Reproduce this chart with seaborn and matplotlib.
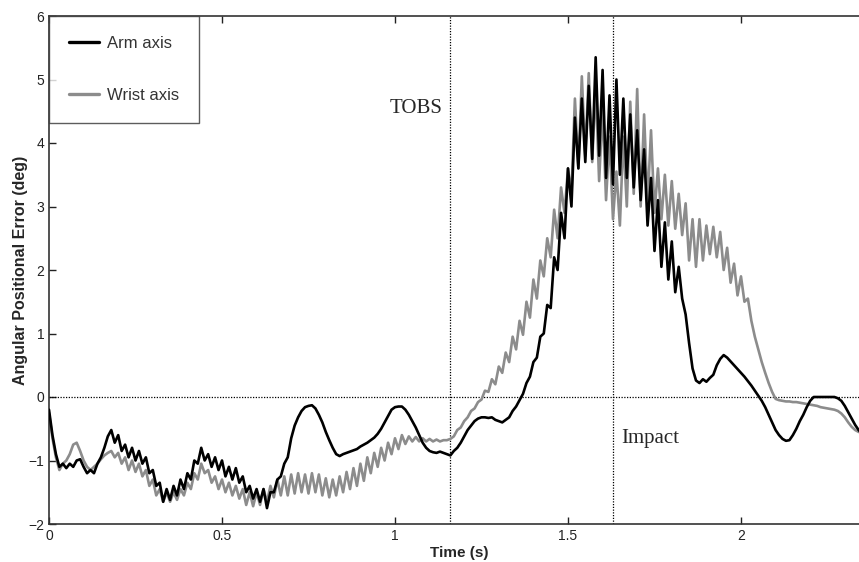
import numpy as np
import pandas as pd
import matplotlib
matplotlib.use("Agg")
import matplotlib.pyplot as plt
import seaborn as sns

sample_step = 0.01

arm_axis = [
    -0.20, -0.60, -0.90, -1.10, -1.05, -1.12, -1.05, -1.10, -1.00, -0.98,
    -1.10, -1.20, -1.15, -1.20, -1.05, -0.95, -0.80, -0.62, -0.52, -0.72,
    -0.60, -0.85, -0.75, -0.95, -0.80, -1.00, -0.85, -1.05, -0.95, -1.20,
    -1.15, -1.40, -1.35, -1.65, -1.45, -1.62, -1.40, -1.55, -1.30, -1.45,
    -1.20, -1.30, -1.00, -1.05, -0.80, -1.00, -0.90, -1.10, -0.95, -1.15,
    -1.00, -1.25, -1.10, -1.30, -1.12, -1.35, -1.25, -1.50, -1.40, -1.60,
    -1.45, -1.65, -1.45, -1.75, -1.50, -1.50, -1.30, -1.25, -1.05, -0.95,
    -0.65, -0.45, -0.32, -0.22, -0.16, -0.14, -0.13, -0.18, -0.28, -0.40,
    -0.55, -0.68, -0.80, -0.90, -0.93, -0.90, -0.88, -0.86, -0.84, -0.82,
    -0.78, -0.75, -0.72, -0.68, -0.64, -0.58, -0.50, -0.40, -0.30, -0.20,
    -0.16, -0.15, -0.15, -0.20, -0.28, -0.38, -0.48, -0.60, -0.72, -0.80,
    -0.85, -0.87, -0.88, -0.86, -0.88, -0.90, -0.92, -0.85, -0.80, -0.72,
    -0.62, -0.52, -0.45, -0.38, -0.34, -0.32, -0.32, -0.33, -0.32, -0.36,
    -0.38, -0.40, -0.36, -0.32, -0.22, -0.15, -0.05, 0.05, 0.22, 0.32,
    0.55, 0.62, 0.95, 1.00, 1.45, 1.40, 2.20, 2.00, 2.90, 2.50,
    3.60, 3.00, 4.40, 3.60, 4.70, 3.70, 4.90, 3.75, 5.35, 3.80,
    5.15, 3.45, 4.75, 3.35, 5.00, 3.50, 4.70, 3.45, 4.45, 3.30,
    4.20, 3.10, 3.90, 2.70, 3.45, 2.30, 3.10, 2.05, 2.75, 1.85,
    2.45, 1.65, 2.05, 1.55, 1.30, 0.85, 0.45, 0.26, 0.22, 0.28,
    0.24, 0.30, 0.35, 0.50, 0.60, 0.66, 0.62, 0.56, 0.50, 0.44,
    0.38, 0.32, 0.25, 0.18, 0.10, 0.02, -0.06, -0.16, -0.28, -0.40,
    -0.52, -0.60, -0.66, -0.69, -0.68, -0.60, -0.50, -0.38, -0.28, -0.16,
    -0.06, 0.00, 0.00, 0.00, 0.00, 0.00, 0.00, 0.00, -0.02, -0.06,
    -0.14, -0.24, -0.34, -0.44, -0.52, -0.58,
]

wrist_axis = [
    -0.25, -0.65, -0.95, -1.15, -1.05, -1.00, -0.90, -0.75, -0.72, -0.85,
    -1.00, -1.10, -1.15, -1.10, -1.05, -0.98, -0.92, -0.88, -0.85, -0.95,
    -0.88, -1.05, -0.95, -1.15, -1.00, -1.18, -1.05, -1.25, -1.15, -1.40,
    -1.30, -1.55, -1.45, -1.65, -1.50, -1.65, -1.50, -1.62, -1.45, -1.55,
    -1.35, -1.45, -1.20, -1.30, -1.05, -1.20, -1.15, -1.35, -1.25, -1.45,
    -1.30, -1.50, -1.35, -1.55, -1.40, -1.60, -1.45, -1.70, -1.50, -1.72,
    -1.50, -1.70, -1.45, -1.65, -1.40, -1.58, -1.30, -1.55, -1.25, -1.55,
    -1.22, -1.52, -1.20, -1.50, -1.22, -1.52, -1.20, -1.50, -1.22, -1.55,
    -1.28, -1.58, -1.30, -1.55, -1.25, -1.50, -1.18, -1.45, -1.12, -1.40,
    -1.05, -1.32, -0.95, -1.20, -0.88, -1.10, -0.80, -1.00, -0.72, -0.90,
    -0.65, -0.82, -0.60, -0.74, -0.62, -0.70, -0.63, -0.70, -0.65, -0.70,
    -0.66, -0.70, -0.67, -0.70, -0.68, -0.68, -0.66, -0.62, -0.52, -0.48,
    -0.38, -0.32, -0.22, -0.18, -0.08, -0.04, 0.10, 0.08, 0.28, 0.20,
    0.48, 0.38, 0.70, 0.55, 0.95, 0.75, 1.20, 0.98, 1.50, 1.25,
    1.85, 1.55, 2.15, 1.90, 2.50, 2.20, 2.95, 2.50, 3.30, 2.90,
    3.60, 3.20, 4.70, 3.60, 5.05, 3.80, 5.10, 3.70, 4.90, 3.40,
    4.55, 3.10, 4.10, 2.80, 3.55, 2.70, 4.10, 3.00, 4.65, 3.20,
    4.85, 3.00, 4.45, 3.05, 4.20, 2.90, 3.60, 2.80, 3.50, 2.70,
    3.40, 2.65, 3.20, 2.55, 3.05, 2.15, 2.80, 2.05, 2.80, 2.15,
    2.70, 2.25, 2.68, 2.20, 2.60, 2.00, 2.35, 1.80, 2.10, 1.60,
    1.90, 1.50, 1.55, 1.20, 0.95, 0.75, 0.55, 0.38, 0.22, 0.08,
    -0.03, -0.05, -0.06, -0.07, -0.07, -0.08, -0.08, -0.09, -0.10, -0.11,
    -0.12, -0.13, -0.14, -0.16, -0.17, -0.18, -0.19, -0.20, -0.22, -0.26,
    -0.32, -0.40, -0.47, -0.52, -0.55, -0.56,
]

tobs_time = 1.16
impact_time = 1.63
x_ticks = [0, 0.5, 1, 1.5, 2]
x_tick_labels = ["0", "0.5", "1", "1.5", "2"]
y_ticks = [-2, -1, 0, 1, 2, 3, 4, 5, 6]

time_s = np.arange(len(arm_axis)) * sample_step
df = pd.DataFrame({"time": time_s, "arm": arm_axis, "wrist": wrist_axis})

sns.set_style("ticks")
plt.rcParams["font.family"] = ["Liberation Sans", "DejaVu Sans"]

fig = plt.figure(figsize=(8.59, 5.62), dpi=100)
ax = fig.add_axes([49 / 859, 1 - 524 / 562, (869 - 49) / 859, (524 - 16) / 562])

sns.lineplot(data=df, x="time", y="wrist", ax=ax, color="#8c8c8c", lw=1.9,
             label="Wrist axis", zorder=2)
sns.lineplot(data=df, x="time", y="arm", ax=ax, color="black", lw=1.9,
             label="Arm axis", zorder=3)

dots = (0, (1, 1.2))
ax.axvline(tobs_time, color="black", lw=0.9, ls=dots, zorder=1)
ax.axvline(impact_time, color="black", lw=0.9, ls=dots, zorder=1)
ax.axhline(0, color="black", lw=0.9, ls=dots, zorder=1)

ax.text(0.985, 4.47, "TOBS", family="Liberation Serif", fontsize=15, ha="left", va="baseline")
ax.text(1.653, -0.72, "Impact", family="Liberation Serif", fontsize=15, ha="left", va="baseline")

ax.set_xlim(0, 2.37)
ax.set_ylim(-2, 6)
ax.set_xticks(x_ticks)
ax.set_xticklabels(x_tick_labels)
ax.set_yticks(y_ticks)
ax.tick_params(direction="in", top=True, right=False, length=5, width=1,
               labelsize=10, colors="#222222")
for side in ["left", "bottom", "top"]:
    ax.spines[side].set_color("#333333")
    ax.spines[side].set_linewidth(1.2)
ax.spines["right"].set_visible(False)

ax.set_xlabel("Time (s)", fontsize=11, fontweight="bold", labelpad=2)
ax.set_ylabel("Angular Positional Error (deg)", fontsize=11.5, fontweight="bold", labelpad=0)

handles, labels = ax.get_legend_handles_labels()
leg = ax.legend(handles[::-1], labels[::-1], loc="upper left", fontsize=12,
                frameon=True, fancybox=False, borderaxespad=0, borderpad=1.2,
                labelspacing=2.2, handlelength=1.8, handletextpad=0.5)
leg.get_frame().set_edgecolor("#333333")
leg.get_frame().set_linewidth(1.0)
for line in leg.get_lines():
    line.set_linewidth(2.4)
for t in leg.get_texts():
    t.set_color("#333333")

fig.savefig("out.png", dpi=100)
